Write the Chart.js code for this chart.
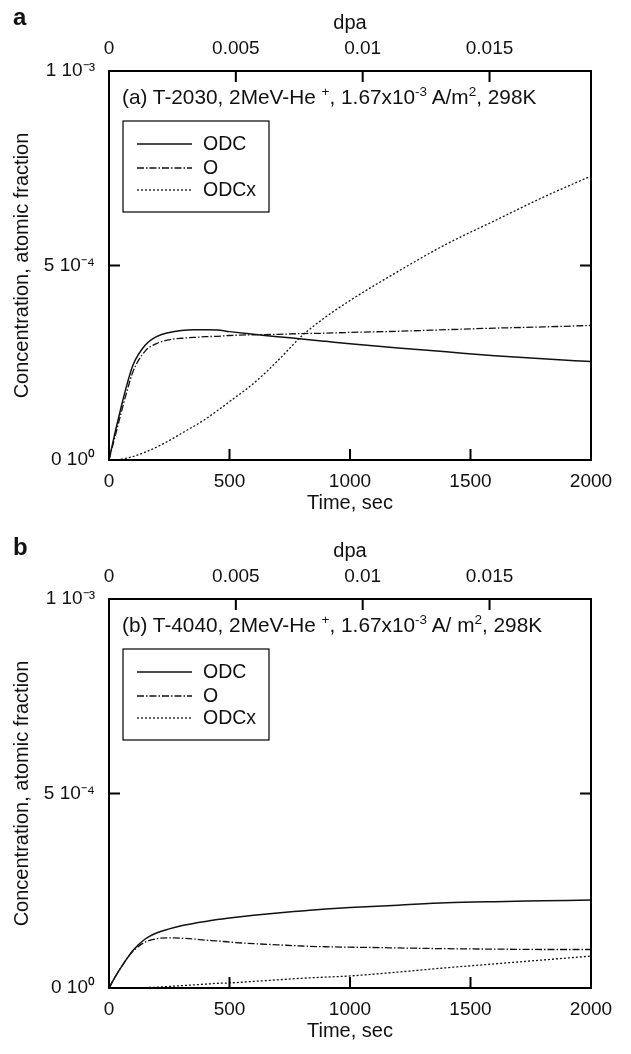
<!DOCTYPE html>
<html><head><meta charset="utf-8">
<script src="https://cdn.jsdelivr.net/npm/chart.js@4.4.1/dist/chart.umd.min.js"></script>
<style>
html,body{margin:0;padding:0;background:#fff;}
#wrap{position:relative;width:631px;height:1054px;overflow:hidden;font-family:"Liberation Sans",Arial,sans-serif;color:#111;}
.panel{position:absolute;left:0;width:631px;height:527px;}
.panel canvas{position:absolute;left:0;top:0;}
.letter{position:absolute;left:13px;font-weight:bold;font-size:24px;line-height:1;}
.note{position:absolute;left:122px;top:87px;font-size:20.8px;line-height:1;white-space:nowrap;}
.note sup{font-size:13.5px;vertical-align:0;position:relative;top:-8px;}
</style></head>
<body>
<div id="wrap">
  <div class="panel" style="top:0"><canvas id="ca" width="631" height="527"></canvas>
    <div class="letter" style="top:5px">a</div>
    <div class="note">(a) T-2030, 2MeV-He <sup>+</sup>, 1.67x10<sup>-3</sup> A/m<sup>2</sup>, 298K</div>
  </div>
  <div class="panel" style="top:528px"><canvas id="cb" width="631" height="527"></canvas>
    <div class="letter" style="top:7px">b</div>
    <div class="note">(b) T-4040, 2MeV-He <sup>+</sup>, 1.67x10<sup>-3</sup> A/ m<sup>2</sup>, 298K</div>
  </div>
</div>
<script>
// ---- data (concentration in units of 1e-4 atomic fraction) ----
const times = [0,25,50,75,100,150,200,250,300,350,400,450,500,600,700,800,900,1000,1200,1400,1600,1800,2000];
const odcA  = [0,0.7,1.35,1.95,2.45,2.95,3.18,3.28,3.33,3.35,3.35,3.34,3.30,3.23,3.17,3.11,3.05,2.99,2.88,2.78,2.68,2.60,2.53];
const oA    = [0,0.6,1.2,1.78,2.28,2.8,3.0,3.09,3.13,3.15,3.17,3.18,3.20,3.22,3.23,3.25,3.26,3.28,3.31,3.35,3.39,3.42,3.46];
const odcxA = [0,0.0,0.02,0.05,0.09,0.2,0.34,0.5,0.68,0.86,1.05,1.27,1.5,1.97,2.55,3.19,3.68,4.1,4.85,5.55,6.15,6.75,7.3];
const odcB  = [0,0.28,0.53,0.76,0.97,1.26,1.42,1.52,1.6,1.66,1.71,1.76,1.8,1.87,1.93,1.98,2.03,2.07,2.13,2.19,2.22,2.24,2.26];
const oB    = [0,0.28,0.53,0.76,0.95,1.18,1.27,1.29,1.28,1.26,1.23,1.21,1.18,1.14,1.11,1.08,1.06,1.05,1.03,1.01,1.0,0.99,0.99];
const odcxB = [0,0,0,0,0,0.01,0.02,0.04,0.06,0.08,0.1,0.12,0.13,0.17,0.21,0.25,0.28,0.31,0.41,0.52,0.62,0.72,0.82];
const seriesNames = ['ODC','O','ODCx'];
const yTickLabels = ['0 10\u2070','5 10\u207B\u2074','1 10\u207B\u00B3'];
const timeTickLabels = ['0','500','1000','1500','2000'];
const dpaTickLabels = ['0','0.005','0.01','0.015'];
const dpaMax = 0.019;

const FAM = '"Liberation Sans", Arial, sans-serif';
const TICKFONT = {family:FAM, size:19};
const TITLEFONT = {family:FAM, size:20};
const INK = '#111';

const framePlugin = {
  id:'frame',
  afterDatasetsDraw(chart){
    const {ctx, chartArea:a, scales} = chart;
    ctx.save();
    ctx.strokeStyle='#000'; ctx.lineWidth=2;
    ctx.strokeRect(a.left, a.top, a.right-a.left, a.bottom-a.top);
    const L=11;
    ctx.beginPath();
    scales.x.ticks.forEach(t=>{ if(t.value>0 && t.value<2000){const p=scales.x.getPixelForValue(t.value); ctx.moveTo(p,a.bottom); ctx.lineTo(p,a.bottom-L);} });
    scales.x2.ticks.forEach(t=>{ if(t.value>0){const p=scales.x2.getPixelForValue(t.value); ctx.moveTo(p,a.top); ctx.lineTo(p,a.top+L);} });
    scales.y.ticks.forEach(t=>{ if(t.value>0 && t.value<10){const p=scales.y.getPixelForValue(t.value); ctx.moveTo(a.left,p); ctx.lineTo(a.left+L,p); ctx.moveTo(a.right,p); ctx.lineTo(a.right-L,p);} });
    ctx.stroke();
    // legend box
    const bx=a.left+14, by=a.top+50, bw=146, bh=91;
    ctx.lineWidth=1.2;
    ctx.strokeRect(bx,by,bw,bh);
    const rows=[23,47,69];
    ctx.font = '19.5px ' + FAM;
    ctx.fillStyle=INK; ctx.textBaseline='middle'; ctx.textAlign='left';
    chart.data.datasets.forEach((ds,i)=>{
      const y=by+rows[i];
      ctx.save();
      ctx.strokeStyle=ds.borderColor; ctx.lineWidth=ds.borderWidth; ctx.setLineDash(ds.borderDash||[]);
      ctx.beginPath(); ctx.moveTo(bx+14,y); ctx.lineTo(bx+69,y); ctx.stroke();
      ctx.restore();
      ctx.fillText(ds.label, bx+80, y+1);
    });
    ctx.restore();
  }
};

function makeChart(id, odc, o, odcx){
  const pts = arr => times.map((t,i)=>({x:t,y:arr[i]}));
  const base = {pointRadius:0, fill:false, cubicInterpolationMode:'monotone', borderColor:'#111'};
  return new Chart(document.getElementById(id), {
    type:'line',
    data:{datasets:[
      Object.assign({label:seriesNames[0], data:pts(odc), borderWidth:1.5, borderDash:[]}, base),
      Object.assign({label:seriesNames[1], data:pts(o), borderWidth:1.3, borderDash:[7,2,1.5,2]}, base),
      Object.assign({label:seriesNames[2], data:pts(odcx), borderWidth:1.3, borderDash:[2,2]}, base)
    ]},
    options:{
      responsive:false, animation:false, events:[],
      layout:{padding:{left:0,right:40,top:0,bottom:0}},
      plugins:{legend:{display:false}, title:{display:false}, tooltip:{enabled:false}},
      scales:{
        x:{type:'linear', position:'bottom', min:0, max:2000,
           grid:{display:false}, border:{display:false},
           ticks:{stepSize:500, color:INK, font:TICKFONT, padding:2, maxRotation:0, autoSkip:false,
                  callback:(v,i)=>timeTickLabels[i]},
           title:{display:true, text:'Time, sec', color:INK, font:TITLEFONT, padding:{top:0,bottom:12}},
           afterFit:s=>{s.height=67;}},
        x2:{type:'linear', position:'top', min:0, max:dpaMax,
           grid:{display:false}, border:{display:false},
           ticks:{stepSize:0.005, color:INK, font:TICKFONT, padding:3, maxRotation:0, autoSkip:false,
                  callback:(v,i)=>dpaTickLabels[i]},
           title:{display:true, text:'dpa', color:INK, font:TITLEFONT, padding:{top:11,bottom:0}},
           afterFit:s=>{s.height=71;}},
        y:{type:'linear', position:'left', min:0, max:10,
           grid:{display:false}, border:{display:false},
           ticks:{stepSize:5, color:INK, font:TICKFONT, padding:6, autoSkip:false,
                  callback:(v,i)=>yTickLabels[i]},
           title:{display:true, text:'Concentration, atomic fraction', color:INK, font:TITLEFONT, padding:{top:10,bottom:0}},
           afterFit:s=>{s.width=109;}}
      }
    },
    plugins:[framePlugin]
  });
}
makeChart('ca', odcA, oA, odcxA);
makeChart('cb', odcB, oB, odcxB);
</script>
</body></html>
